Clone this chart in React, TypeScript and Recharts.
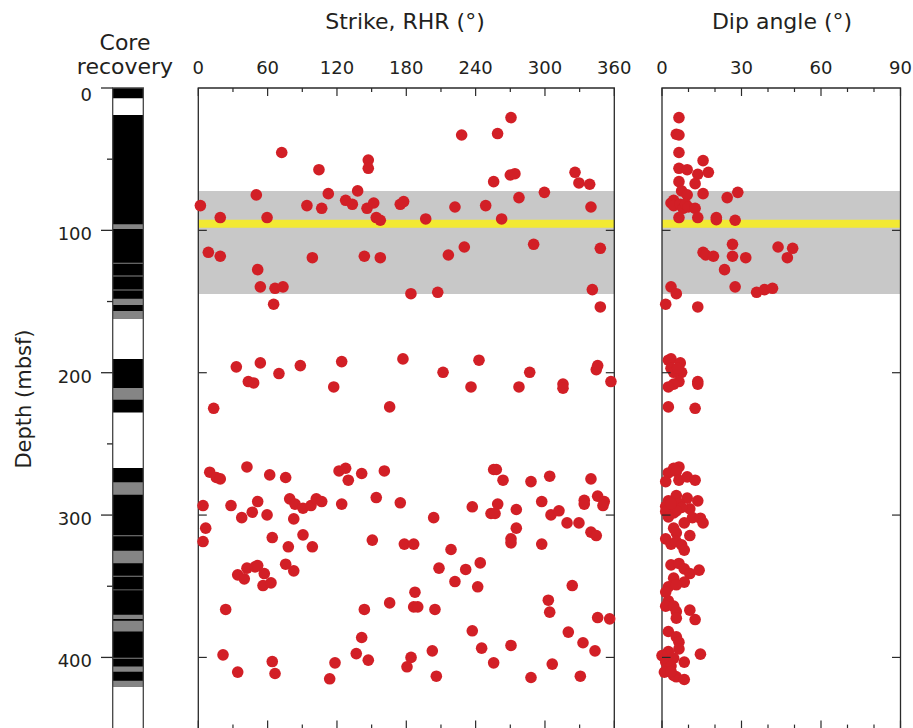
import React from 'react';
import { ScatterChart, Scatter, XAxis, YAxis, ReferenceArea } from 'recharts';

// depth axis, mbsf
const depthTicks = [0, 50, 100, 150, 200, 250, 300, 350, 400];
const panelDepthTicks = [100, 200, 300, 400];
const strikeTicks = [0, 30, 60, 90, 120, 150, 180, 210, 240, 270, 300, 330, 360];
const dipTicks = [0, 10, 20, 30, 40, 50, 60, 70, 80, 90];

// core recovery intervals [top, bottom] (mbsf)
const recovered: [number, number][] = [
  [0, 7.2], [19, 162], [190.3, 228], [266.9, 420.4],
];
const disturbed: [number, number][] = [
  [95.7, 99.1], [122.7, 123.4], [131.7, 132.4], [141.6, 142.3], [148, 152.4], [156.6, 162],
  [210.7, 219], [277, 285.8], [314.1, 314.8], [325, 333.8], [342.7, 343.4], [352.2, 352.9],
  [370, 373], [374.3, 381.8], [400.2, 400.9], [406.4, 410], [416.4, 420.4],
];

// shaded interval and yellow marker (mbsf)
const shadedZone: [number, number] = [72.3, 144.7];
const markerZone: [number, number] = [92.5, 98.1];

// [strike (deg), depth (mbsf)]
const strikePoints: [number, number][] = [
  [270.6, 20.8], [227.9, 33], [259, 32], [72.2, 45.3], [147.1, 50.6], [147.1, 56.4], [104.4, 57.4],
  [270, 61.1], [274, 60.2], [255.6, 65.8], [326, 59.2], [329.4, 66.7], [338.7, 67.6],
  [50.2, 75.1], [112.5, 74.2], [137.9, 72.3], [299.5, 73.3], [277.5, 77],
  [1.8, 82.6], [94, 82.6], [106.8, 84.5], [127.5, 78.9], [133.3, 81.7], [146, 84.5], [151.8, 80.8],
  [174.8, 81.7], [177.7, 79.8], [222.1, 83.6], [248.7, 82.6], [339.8, 83.6],
  [19, 91], [59.5, 91], [154, 91], [157.5, 92.9], [196.8, 92], [262.5, 92],
  [8.7, 115.4], [19, 118.2], [98.7, 119.2], [143.7, 118.2], [157.5, 119.2], [216.4, 117.3],
  [230.2, 111.7], [290.2, 109.8], [347.9, 112.6], [51.4, 127.6], [53.7, 139.7], [66.4, 140.7],
  [73.3, 139.7], [65.2, 151.9], [184, 144.5], [207.2, 143.5], [341, 141.6], [347.9, 153.8],
  [32.9, 195.9], [53.7, 193.1], [69.8, 200.6], [88.3, 195], [124.1, 192.2], [177.1, 190.3],
  [242.9, 191.2], [211.8, 199.7], [286.8, 199.7], [344.4, 197.8], [345.6, 195], [357.1, 206.2],
  [43.3, 206.2], [47.9, 207.2], [117.2, 210], [236, 210], [277.5, 210], [315.6, 208], [315.6, 210.9],
  [13.3, 225], [165.6, 224],
  [9.9, 269.9], [15.6, 273.6], [19, 274.6], [42.1, 266.2], [61.8, 271.8], [75.6, 273.6],
  [121.8, 269], [127.5, 267.1], [129.8, 275.5], [141.4, 270.8], [161, 269], [255.6, 268],
  [257.9, 268], [263.7, 275.5], [287.9, 276.5], [304.1, 272.7], [339.8, 274.6],
  [4.1, 293.3], [28.3, 293.3], [51.4, 290.5], [37.6, 301.8], [46.7, 298], [59.5, 299.9],
  [79.1, 288.6], [83.7, 292.3], [82.6, 302.7], [90.6, 295.2], [97.5, 293.3], [102.1, 288.6],
  [106.8, 290.5], [124.1, 292.3], [154, 287.7], [174.8, 291.4], [203.7, 301.8], [237.1, 294.2],
  [253.3, 298.9], [256.8, 298.9], [259.1, 292.3], [275.2, 296.1], [297.2, 290.5], [305.2, 299.9],
  [312.1, 297], [319.1, 305.5], [329.4, 305.5], [334, 289.6], [334, 292.3], [345.6, 286.7],
  [351.3, 290.5], [350.2, 293.3], [339.8, 312], [344.4, 314.4],
  [6.4, 309.2], [4.1, 318.6], [64, 315.8], [90.6, 313.9], [77.9, 322.3], [98.7, 322.3],
  [150.6, 317.6], [178.3, 320.4], [186.4, 320.4], [218.7, 324.2], [270.6, 316.7], [270.6, 319.5],
  [297.2, 320.4], [275.2, 309.2],
  [34.1, 342], [39.8, 344.8], [42.1, 337.3], [49.1, 336.4], [51.4, 335.5], [57.1, 341.1],
  [56, 349.5], [62.9, 347.6], [75.6, 334.5], [82.6, 339.2], [23.7, 366.3],
  [21.4, 398.2], [34.1, 410.3], [64, 402.9], [66.4, 411.3], [113.7, 415], [118.3, 403.8],
  [136.7, 397.3], [141.4, 386], [147.1, 401.9], [143.7, 366.3], [165.6, 361.7], [184.1, 400],
  [180.6, 406.6], [186.4, 364.5], [189.9, 364.5], [187.5, 354.2], [204.8, 366.3], [202.5, 395.4],
  [206, 413.2], [208.3, 337.3], [222.1, 346.7], [231.4, 338.2], [244, 333.6], [241.8, 350.4],
  [237.1, 381.3], [245.2, 393.5], [255.6, 403.8], [270.6, 391.6], [287.9, 414.1], [302.9, 359.8],
  [304.1, 368.2], [306.3, 404.7], [323.6, 349.5], [320.2, 382.2], [332.9, 389.7], [330.6, 413.2],
  [343.3, 395.4], [345.6, 372], [356, 372.9],
];

// [dip (deg), depth (mbsf)]
const dipPoints: [number, number][] = [
  [6.4, 20.8], [5.4, 32.5], [6.4, 33], [6.4, 45.3], [15.5, 51], [6.4, 56.4], [9.5, 57.4],
  [13.5, 60.6], [12.5, 67.2], [17.5, 59.2], [6.4, 65.8], [7.4, 72.3], [9.5, 75.1], [15.5, 74.2],
  [24.6, 77], [28.6, 73.3], [3.4, 80.8], [4.4, 78.9], [4.4, 82.6], [6.9, 81.7], [7.9, 84.5],
  [8.9, 81.7], [9.9, 83.6], [12.5, 84.5], [6.4, 91], [13.5, 91], [20.5, 91], [20.5, 92.5],
  [27.6, 92.9], [26.6, 109.8], [43.8, 111.7], [49.3, 112.6], [47.3, 119.2], [15.5, 115.4],
  [16.5, 117.3], [19.4, 118.2], [26.6, 118.2], [31.6, 119.2], [23.6, 127.6], [27.6, 139.7],
  [35.7, 143.5], [38.7, 141.6], [41.7, 140.7], [3.4, 139.7], [5.4, 144.5], [1.4, 151.9], [13.5, 153.8],
  [2.4, 191.2], [3.4, 190.3], [6.9, 193.1], [3.4, 196.9], [7.4, 199.7], [4.4, 199.7], [5.9, 196.9],
  [6.4, 206.2], [4.4, 208], [2.4, 210], [13.5, 206.2], [13.5, 208], [2.4, 224], [12.5, 225],
  [6.4, 266.2], [4.4, 267.1], [2.4, 270.4], [5.4, 269.4], [1.4, 276.5], [6.4, 275.5], [9.5, 273.2],
  [12.5, 275.5], [5.4, 286.3], [9.5, 288.1], [13.5, 290], [2.4, 290], [6.4, 291.9], [1.4, 293.8],
  [10.5, 295.6], [1.4, 297.5], [7.4, 294.7], [4.4, 298.5], [5.4, 297], [2.4, 301.3], [11.5, 301.8],
  [14.5, 302.2], [15.5, 305.5], [8.4, 305.5], [3.4, 291.9], [4.4, 309.2], [5.4, 312.5],
  [10.5, 314.4], [1.4, 316.7], [3.4, 320.4], [5.4, 318.6], [7.4, 320.9], [8.4, 324.6],
  [3.4, 335], [6.4, 334], [8.4, 337.8], [10.5, 341.1], [14, 338.7], [4.4, 344.3], [8.4, 347.1],
  [2.4, 350.4], [5.4, 349], [1.4, 354.1], [2.4, 360.3], [1.4, 364], [4.4, 364], [5.4, 367.8],
  [5.4, 372.4], [10.5, 366.8], [12.5, 373.4], [2.4, 381.8], [5.4, 385.5], [6.4, 389.3],
  [6.4, 394], [2.4, 395.9], [0, 398.7], [14.5, 397.7], [4.4, 400.5], [1.4, 403.3], [8.4, 403.3],
  [3.4, 406.1], [0.9, 410.3], [4.4, 412.7], [5.4, 413.6], [8.4, 415.5], [3.4, 409.9],
];

const W = 913;
const H = 780;
const TOP = 88;
const BOTTOM = 728.6;
const X_AXIS_H = 30;
const Y_AXIS_W = 20;
const INK = '#231f20';
const FRAME = '#2a2a2a';
const DOT = '#d21f26';
const FONT = '"DejaVu Sans", sans-serif';

const CORE = { left: 112.7, right: 143.3 };
const STRIKE = { left: 198.3, right: 614.3 };
const DIP = { left: 662, right: 900.5 };

const toRows = (pts: [number, number][]) => pts.map(([v, d]) => ({ v, d }));
// interval ends, used only so the core axis has data to scale against
const coreRows = recovered.flatMap(([a, b]) => [{ v: 0.5, d: a }, { v: 0.5, d: b }]);

const Dot = (props: any) => <circle cx={props.cx} cy={props.cy} r={5.8} fill={DOT} />;
const NoMark = () => <g />;

const makeXTick = (majorStep: number) => (props: any) => {
  const { x, payload } = props;
  const major = payload.value % majorStep === 0;
  const len = major ? 8 : 4;
  return (
    <g>
      <line x1={x} x2={x} y1={TOP} y2={TOP + len} stroke={FRAME} strokeWidth={1.2} />
      <line x1={x} x2={x} y1={BOTTOM} y2={BOTTOM - len} stroke={FRAME} strokeWidth={1.2} />
      {major && (
        <text x={x} y={TOP - 14} textAnchor="middle" fontSize={18} fontFamily={FONT} fill={INK}>
          {payload.value}
        </text>
      )}
    </g>
  );
};

const makeInnerYTick = (left: number, right: number) => (props: any) => {
  const { y } = props;
  return (
    <g>
      <line x1={left} x2={left + 8.5} y1={y} y2={y} stroke={FRAME} strokeWidth={1.2} />
      <line x1={right} x2={right - 8.5} y1={y} y2={y} stroke={FRAME} strokeWidth={1.2} />
    </g>
  );
};

const CoreYTick = (props: any) => {
  const { y, payload } = props;
  const major = payload.value % 100 === 0;
  return (
    <g>
      <line x1={major ? 101 : 107} x2={CORE.left} y1={y} y2={y} stroke={FRAME} strokeWidth={1.3} />
      {major && (
        <text x={92} y={y + (payload.value === 0 ? 12.5 : 10)} textAnchor="end" fontSize={18} fontFamily={FONT} fill={INK}>
          {payload.value}
        </text>
      )}
    </g>
  );
};

const abs: React.CSSProperties = { position: 'absolute', left: 0, top: 0 };

export default function App() {
  return (
    <div style={{ position: 'absolute', left: 0, top: 0, width: W, height: 728, overflow: 'hidden', background: '#fff' }}>
      {/* core recovery column */}
      <div style={abs}>
        <ScatterChart width={W} height={H} margin={{ top: TOP, bottom: H - BOTTOM, left: CORE.left - Y_AXIS_W, right: W - CORE.right }}>
          <XAxis type="number" dataKey="v" domain={[0, 1]} hide />
          <YAxis type="number" dataKey="d" domain={[0, 450]} reversed ticks={depthTicks} interval={0}
            width={Y_AXIS_W} axisLine={false} tickLine={false} tick={CoreYTick} />
          {recovered.map(([a, b], i) => (
            <ReferenceArea key={`r${i}`} x1={0} x2={1} y1={a} y2={b} fill="#000" fillOpacity={1} stroke="none" />
          ))}
          {disturbed.map(([a, b], i) => (
            <ReferenceArea key={`g${i}`} x1={0} x2={1} y1={a} y2={b} fill="#858585" fillOpacity={1} stroke="none" />
          ))}
          <ReferenceArea x1={0} x2={1} y1={0} y2={450} fill="none" stroke="#444" strokeWidth={1.3} />
          <Scatter data={coreRows} shape={NoMark} isAnimationActive={false} />
        </ScatterChart>
      </div>

      {/* strike */}
      <div style={abs}>
        <ScatterChart width={W} height={H} margin={{ top: TOP - X_AXIS_H, bottom: H - BOTTOM, left: STRIKE.left - Y_AXIS_W, right: W - STRIKE.right }}>
          <XAxis type="number" dataKey="v" orientation="top" domain={[0, 360]} ticks={strikeTicks} interval={0}
            height={X_AXIS_H} axisLine={false} tickLine={false} tick={makeXTick(60)} />
          <YAxis type="number" dataKey="d" domain={[0, 450]} reversed ticks={panelDepthTicks} interval={0}
            width={Y_AXIS_W} axisLine={false} tickLine={false} tick={makeInnerYTick(STRIKE.left, STRIKE.right)} />
          <ReferenceArea x1={0} x2={360} y1={shadedZone[0]} y2={shadedZone[1]} fill="#c8c8c8" fillOpacity={1} stroke="none" />
          <ReferenceArea x1={0} x2={360} y1={markerZone[0]} y2={markerZone[1]} fill="#f2e933" fillOpacity={1} stroke="none" />
          <ReferenceArea x1={0} x2={360} y1={0} y2={450} fill="none" stroke={FRAME} strokeWidth={1.3} />
          <Scatter data={toRows(strikePoints)} shape={Dot} isAnimationActive={false} />
        </ScatterChart>
      </div>

      {/* dip angle */}
      <div style={abs}>
        <ScatterChart width={W} height={H} margin={{ top: TOP - X_AXIS_H, bottom: H - BOTTOM, left: DIP.left - Y_AXIS_W, right: W - DIP.right }}>
          <XAxis type="number" dataKey="v" orientation="top" domain={[0, 90]} ticks={dipTicks} interval={0}
            height={X_AXIS_H} axisLine={false} tickLine={false} tick={makeXTick(30)} />
          <YAxis type="number" dataKey="d" domain={[0, 450]} reversed ticks={panelDepthTicks} interval={0}
            width={Y_AXIS_W} axisLine={false} tickLine={false} tick={makeInnerYTick(DIP.left, DIP.right)} />
          <ReferenceArea x1={0} x2={90} y1={shadedZone[0]} y2={shadedZone[1]} fill="#c8c8c8" fillOpacity={1} stroke="none" />
          <ReferenceArea x1={0} x2={90} y1={markerZone[0]} y2={markerZone[1]} fill="#f2e933" fillOpacity={1} stroke="none" />
          <ReferenceArea x1={0} x2={90} y1={0} y2={450} fill="none" stroke={FRAME} strokeWidth={1.3} />
          <Scatter data={toRows(dipPoints)} shape={Dot} isAnimationActive={false} />
        </ScatterChart>
      </div>

      {/* titles */}
      <svg style={{ ...abs, pointerEvents: 'none' }} width={W} height={728}>
        <g fontFamily={FONT} fontSize={22} fill={INK} textAnchor="middle">
          <text x={125} y={50}>Core</text>
          <text x={125} y={74}>recovery</text>
          <text x={405} y={29}>Strike, RHR (°)</text>
          <text x={782} y={29}>Dip angle (°)</text>
          <text transform="translate(31,399) rotate(-90)" fontSize={21}>Depth (mbsf)</text>
        </g>
      </svg>
    </div>
  );
}
